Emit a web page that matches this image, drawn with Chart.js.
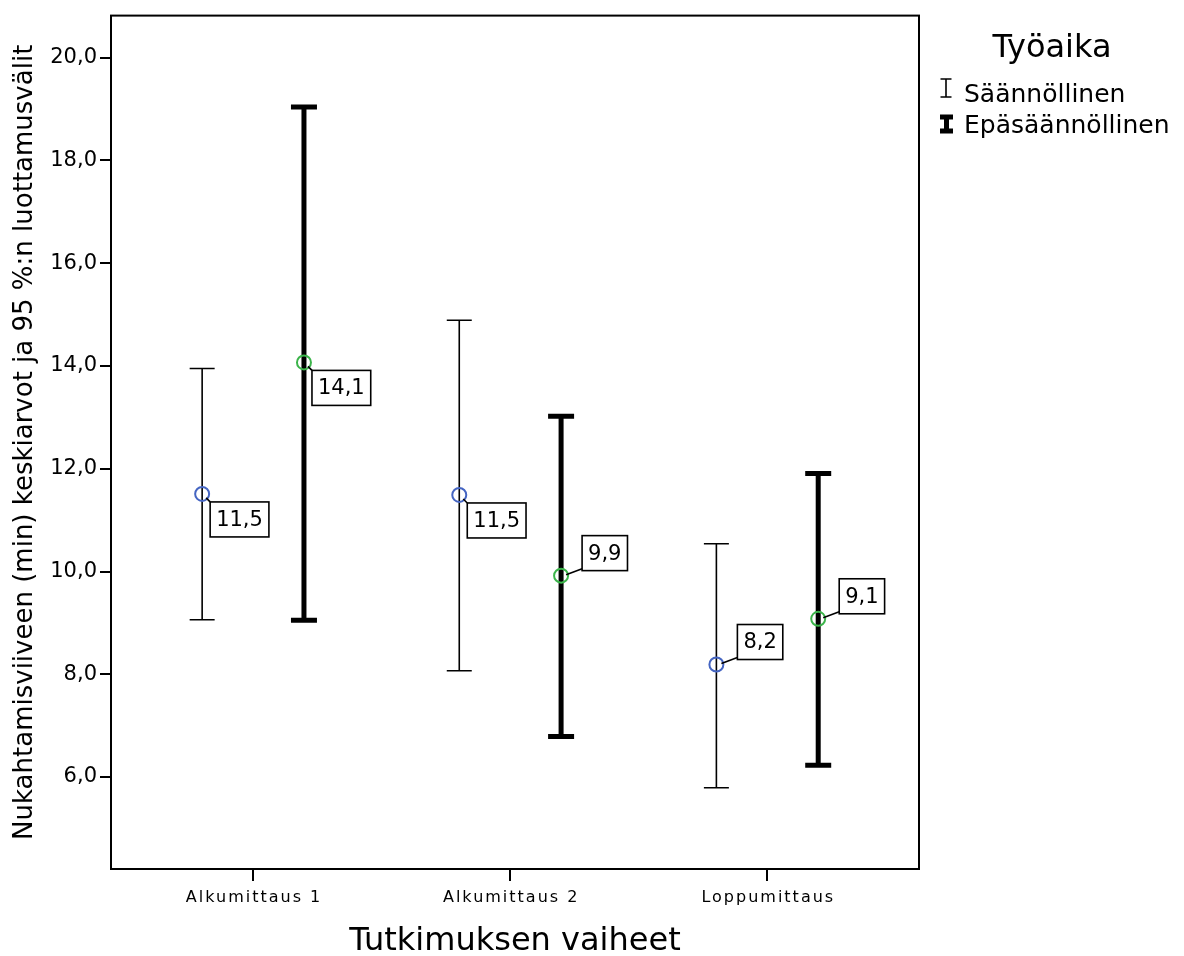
<!DOCTYPE html>
<html>
<head>
<meta charset="utf-8">
<script src="https://cdn.jsdelivr.net/npm/chart.js@4.4.1/dist/chart.umd.min.js"></script>
<style>
  html, body { margin: 0; padding: 0; background: #fff; }
</style>
</head>
<body>
<canvas id="chart" width="1184" height="956"></canvas>
<script>
const categories = ['Alkumittaus 1', 'Alkumittaus 2', 'Loppumittaus'];
const groupNames = ['Säännöllinen', 'Epäsäännöllinen'];
const yTicks = [6, 8, 10, 12, 14, 16, 18, 20];

// Säännöllinen työaika
const regularMean = [11.51, 11.49, 8.19];
const regularLower = [9.06, 8.07, 5.79];
const regularUpper = [13.95, 14.89, 10.54];

// Epäsäännöllinen työaika
const irregularMean = [14.07, 9.92, 9.08];
const irregularLower = [9.05, 6.79, 6.23];
const irregularUpper = [19.04, 13.02, 11.91];

const FONT = '"DejaVu Sans", Verdana, sans-serif';
const fmt = (v) => v.toFixed(1).replace('.', ',');

// drawing style for the two groups
const series = [
    { name: groupNames[0], mean: regularMean, lower: regularLower, upper: regularUpper,
      offset: -0.198, lineWidth: 1.6, cap: 12.5, color: '#4565c2',
      place: ['below', 'below', 'above'] },
    { name: groupNames[1], mean: irregularMean, lower: irregularLower, upper: irregularUpper,
      offset: 0.198, lineWidth: 5, cap: 13, color: '#3cb44b',
      place: ['below', 'above', 'above'] },
];

const errorBarPlugin = {
    id: 'errorBars',
    beforeDatasetsDraw(chart) {
        const { ctx, chartArea, scales: { x, y } } = chart;
        ctx.save();
        ctx.strokeStyle = '#000';
        ctx.lineWidth = 2;
        ctx.strokeRect(chartArea.left, chartArea.top, chartArea.width, chartArea.height);
        series.forEach((s) => {
            s.mean.forEach((m, i) => {
                const px = x.getPixelForValue(i + 1 + s.offset);
                const top = y.getPixelForValue(s.upper[i]);
                const bot = y.getPixelForValue(s.lower[i]);
                ctx.lineWidth = s.lineWidth;
                ctx.beginPath();
                ctx.moveTo(px, top);
                ctx.lineTo(px, bot);
                ctx.moveTo(px - s.cap, top);
                ctx.lineTo(px + s.cap, top);
                ctx.moveTo(px - s.cap, bot);
                ctx.lineTo(px + s.cap, bot);
                ctx.stroke();
            });
        });
        ctx.restore();
    },
    afterDatasetsDraw(chart) {
        const { ctx, scales: { x, y } } = chart;
        ctx.save();
        ctx.font = '21px ' + FONT;
        ctx.textAlign = 'center';
        ctx.textBaseline = 'middle';
        series.forEach((s) => {
            s.mean.forEach((m, i) => {
                const px = x.getPixelForValue(i + 1 + s.offset);
                const py = y.getPixelForValue(m);
                const text = fmt(m);
                const w = ctx.measureText(text).width + 12;
                const h = 35;
                let bx, by, lx, ly, sx, sy;
                if (s.place[i] === 'below') {
                    bx = px + 8; by = py + 8;
                    sx = px + 4; sy = py + 4; lx = bx; ly = by;
                } else {
                    bx = px + 21; by = py - 5 - h;
                    sx = px + 5; sy = py - 1; lx = bx; ly = by + h - 2;
                }
                ctx.strokeStyle = '#000';
                ctx.lineWidth = 1.6;
                ctx.beginPath();
                ctx.moveTo(sx, sy);
                ctx.lineTo(lx, ly);
                ctx.stroke();
                ctx.fillStyle = '#fff';
                ctx.fillRect(bx, by, w, h);
                ctx.strokeRect(bx, by, w, h);
                ctx.fillStyle = '#000';
                ctx.fillText(text, bx + w / 2, by + h / 2 + 1);
            });
        });
        ctx.restore();
    },
    afterDraw(chart) {
        const { ctx, chartArea, scales: { x } } = chart;
        ctx.save();
        ctx.fillStyle = '#000';
        // category labels (spaced out like the original)
        ctx.font = '16px ' + FONT;
        ctx.letterSpacing = '2px';
        ctx.textAlign = 'center';
        ctx.textBaseline = 'middle';
        categories.forEach((c, i) => {
            ctx.fillText(c, x.getPixelForValue(i + 1) + 1, chartArea.bottom + 29);
        });
        ctx.letterSpacing = '0px';

        // legend
        ctx.font = '32px ' + FONT;
        ctx.textBaseline = 'alphabetic';
        ctx.fillText('Työaika', 1052, 57);
        ctx.font = '25px ' + FONT;
        ctx.textAlign = 'left';
        ctx.fillText(groupNames[0], 964, 102);
        ctx.fillText(groupNames[1], 964, 133);
        ctx.strokeStyle = '#000';
        ctx.lineWidth = 1.6;
        ctx.beginPath();
        ctx.moveTo(946, 79); ctx.lineTo(946, 97);
        ctx.moveTo(940.5, 79); ctx.lineTo(951.5, 79);
        ctx.moveTo(940.5, 97); ctx.lineTo(951.5, 97);
        ctx.stroke();
        ctx.lineWidth = 5;
        ctx.beginPath();
        ctx.moveTo(946.5, 115); ctx.lineTo(946.5, 133);
        ctx.moveTo(940, 117); ctx.lineTo(953, 117);
        ctx.moveTo(940, 131); ctx.lineTo(953, 131);
        ctx.stroke();
        ctx.restore();
    },
};

new Chart(document.getElementById('chart'), {
    type: 'scatter',
    data: {
        datasets: series.map((s) => ({
            label: s.name,
            data: s.mean.map((m, i) => ({ x: i + 1 + s.offset, y: m })),
            pointRadius: 7,
            pointHoverRadius: 7,
            borderWidth: 2,
            borderColor: s.color,
            backgroundColor: 'rgba(0,0,0,0)',
        })),
    },
    options: {
        responsive: false,
        animation: false,
        devicePixelRatio: 1,
        layout: { padding: { left: 0, top: 13, right: 265, bottom: 0 } },
        plugins: { legend: { display: false }, tooltip: { enabled: false } },
        scales: {
            x: {
                type: 'linear',
                min: 0.4475,
                max: 3.59,
                afterBuildTicks: (axis) => { axis.ticks = categories.map((c, i) => ({ value: i + 1 })); },
                afterFit: (axis) => { axis.height = 87; },
                ticks: { display: false },
                grid: { drawOnChartArea: false, drawTicks: true, tickLength: 12, color: '#000', lineWidth: 2 },
                border: { display: true, color: '#000', width: 2 },
                title: {
                    display: true,
                    text: 'Tutkimuksen vaiheet',
                    color: '#000',
                    font: { family: FONT, size: 32 },
                    padding: { top: 0, bottom: -5 },
                },
            },
            y: {
                type: 'linear',
                min: 4.21,
                max: 20.82,
                afterBuildTicks: (axis) => { axis.ticks = yTicks.map((v) => ({ value: v })); },
                afterFit: (axis) => { axis.width = 111; },
                ticks: {
                    color: '#000',
                    font: { family: FONT, size: 21 },
                    padding: 3,
                    callback: (v) => fmt(v),
                },
                grid: { drawOnChartArea: false, drawTicks: true, tickLength: 11, color: '#000', lineWidth: 2 },
                border: { display: true, color: '#000', width: 2 },
                title: {
                    display: true,
                    text: 'Nukahtamisviiveen (min) keskiarvot ja 95 %:n luottamusvälit',
                    color: '#000',
                    font: { family: FONT, size: 26 },
                    padding: { top: 10, bottom: 4 },
                },
            },
        },
    },
    plugins: [errorBarPlugin],
});
</script>
</body>
</html>
